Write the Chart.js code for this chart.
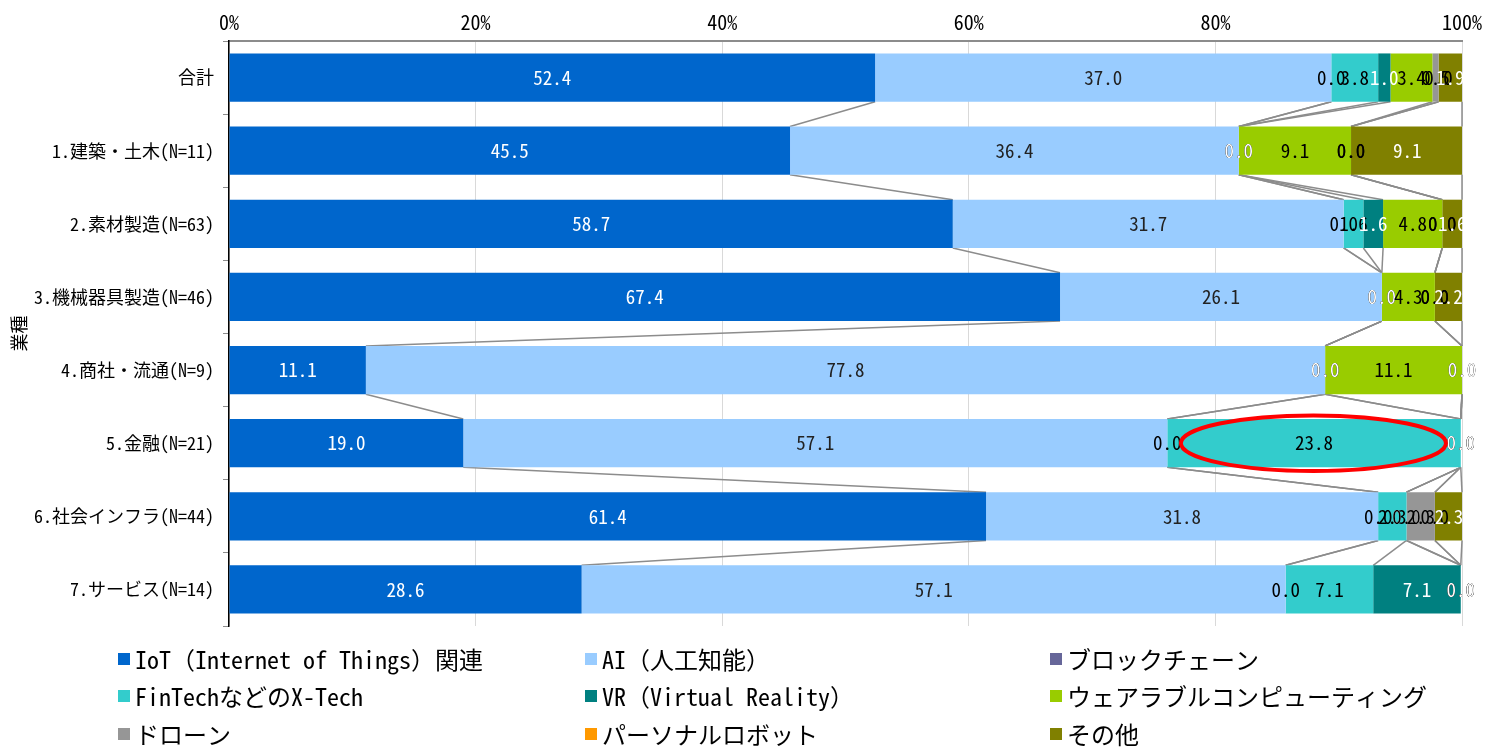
<!DOCTYPE html>
<html>
<head>
<meta charset="utf-8">
<script src="https://cdn.jsdelivr.net/npm/chart.js@4"></script>
<style>
  body { margin: 0; background: #fff; }
  #wrap { position: relative; width: 1498px; height: 753px; }
  #legend { position: absolute; left: 0; top: 641px; width: 1498px;
            font-family: 'Noto Sans Mono CJK JP', 'Noto Sans CJK JP', sans-serif; font-size: 24px; color: #000; }
  .item { position: absolute; display: flex; align-items: center; white-space: nowrap; }
  .box { width: 12px; height: 12px; margin-right: 5px; }
</style>
</head>
<body>
<div id="wrap">
  <canvas id="c" width="1498" height="753"></canvas>
  <div id="legend"></div>
</div>
<script>
const categories = ['合計', '1.建築・土木(N=11)', '2.素材製造(N=63)', '3.機械器具製造(N=46)',
    '4.商社・流通(N=9)', '5.金融(N=21)', '6.社会インフラ(N=44)', '7.サービス(N=14)'];

const seriesNames = ['IoT（Internet of Things）関連', 'AI（人工知能）', 'ブロックチェーン',
    'FinTechなどのX-Tech', 'VR（Virtual Reality）', 'ウェアラブルコンピューティング',
    'ドローン', 'パーソナルロボット', 'その他'];
const seriesColors = ['#0066CC', '#99CCFF', '#666699', '#33CCCC', '#008080', '#99CC00', '#969696', '#FF9900', '#808000'];
const labelColors = ['#fff', '#222', '#000', '#000', '#fff', '#000', '#000', '#000', '#fff'];

// one array per series, values for each category (%)
const iot       = [52.4, 45.5, 58.7, 67.4, 11.1, 19.0, 61.4, 28.6];
const ai        = [37.0, 36.4, 31.7, 26.1, 77.8, 57.1, 31.8, 57.1];
const blockchain= [0.0, 0.0, 0.0, 0.0, 0.0, 0.0, 0.0, 0.0];
const fintech   = [3.8, 0.0, 1.6, 0.0, 0.0, 23.8, 2.3, 7.1];
const vr        = [1.0, 0.0, 1.6, 0.0, 0.0, 0.0, 0.0, 7.1];
const wearable  = [3.4, 9.1, 4.8, 4.3, 11.1, 0.0, 0.0, 0.0];
const drone     = [0.5, 0.0, 0.0, 0.0, 0.0, 0.0, 2.3, 0.0];
const robot     = [0.0, 0.0, 0.0, 0.0, 0.0, 0.0, 0.0, 0.0];
const other     = [1.9, 9.1, 1.6, 2.2, 0.0, 0.0, 2.3, 0.0];
const allSeries = [iot, ai, blockchain, fintech, vr, wearable, drone, robot, other];

const xTicks = [0, 20, 40, 60, 80, 100];
// red ellipse around 金融 / FinTech
const markCat = 5, markFrom = 77.2, markTo = 98.7;

const FONT = "'Noto Sans Mono CJK JP', 'Noto Sans CJK JP', sans-serif";

// Excel-style series lines between neighbouring bars
const seriesLines = {
    id: 'seriesLines',
    beforeDatasetsDraw(chart) {
        const ctx = chart.ctx;
        const xs = chart.scales.x;
        const metas = chart.data.datasets.map((d, i) => chart.getDatasetMeta(i));
        ctx.save();
        ctx.strokeStyle = '#8c8c8c';
        ctx.lineWidth = 1.5;
        for (let i = 0; i < categories.length - 1; i++) {
            let cumA = 0, cumB = 0;
            for (let k = 0; k < allSeries.length; k++) {
                cumA += allSeries[k][i];
                cumB += allSeries[k][i + 1];
                const a = metas[k].data[i], b = metas[k].data[i + 1];
                ctx.beginPath();
                ctx.moveTo(xs.getPixelForValue(Math.min(cumA, 100)), a.y + a.height / 2);
                ctx.lineTo(xs.getPixelForValue(Math.min(cumB, 100)), b.y - b.height / 2);
                ctx.stroke();
            }
        }
        ctx.restore();
    }
};

const valueLabels = {
    id: 'valueLabels',
    afterDatasetsDraw(chart) {
        const ctx = chart.ctx;
        ctx.save();
        ctx.font = '19px ' + FONT;
        ctx.textAlign = 'center';
        ctx.textBaseline = 'middle';
        chart.data.datasets.forEach((ds, k) => {
            const meta = chart.getDatasetMeta(k);
            ctx.fillStyle = labelColors[k];
            meta.data.forEach((bar, i) => {
                const cx = (bar.x + bar.base) / 2;
                ctx.fillText(ds.data[i].toFixed(1), cx, bar.y);
            });
        });
        // annotation ellipse
        const xs = chart.scales.x, ys = chart.scales.y;
        const x1 = xs.getPixelForValue(markFrom), x2 = xs.getPixelForValue(markTo);
        const cy = ys.getPixelForValue(markCat);
        const band = (ys.bottom - ys.top) / categories.length;
        ctx.strokeStyle = '#FF0000';
        ctx.lineWidth = 4;
        ctx.beginPath();
        ctx.ellipse((x1 + x2) / 2, cy, (x2 - x1) / 2, band * 0.38, 0, 0, Math.PI * 2);
        ctx.stroke();
        ctx.restore();
    }
};

new Chart(document.getElementById('c'), {
    type: 'bar',
    data: {
        labels: categories,
        datasets: allSeries.map((vals, k) => ({
            label: seriesNames[k],
            data: vals,
            backgroundColor: seriesColors[k],
            borderWidth: 0,
            barPercentage: 0.66,
            categoryPercentage: 1.0
        }))
    },
    options: {
        indexAxis: 'y',
        responsive: false,
        animation: false,
        layout: { padding: { left: 0, right: 36, top: 0, bottom: 127 } },
        plugins: { legend: { display: false }, tooltip: { enabled: false } },
        scales: {
            x: {
                position: 'top',
                stacked: true,
                min: 0, max: 100,
                afterBuildTicks: s => { s.ticks = xTicks.map(v => ({ value: v })); },
                afterFit: s => { s.height = 41; },
                ticks: { callback: v => v + '%', color: '#000', font: { family: FONT, size: 20 }, padding: 7 },
                grid: { color: '#d9d9d9', lineWidth: 1, drawTicks: false },
                border: { color: '#8c8c8c', width: 2 }
            },
            y: {
                stacked: true,
                afterFit: s => { s.width = 229; },
                ticks: { color: '#000', font: { family: FONT, size: 18 }, padding: 9 },
                grid: { drawOnChartArea: false, tickLength: 6, color: '#8c8c8c', offset: true },
                border: { color: '#000', width: 1.5 },
                title: { display: true, text: '業種', color: '#000', font: { family: FONT, size: 18 }, padding: { top: 8, bottom: 0 } }
            }
        }
    },
    plugins: [seriesLines, valueLabels]
});

// legend in a 3-column grid
const legend = document.getElementById('legend');
const colX = [118, 585, 1050], rowY = [0, 37, 75];
seriesNames.forEach((name, k) => {
    const el = document.createElement('div');
    el.className = 'item';
    el.style.left = colX[k % 3] + 'px';
    el.style.top = rowY[Math.floor(k / 3)] + 'px';
    el.innerHTML = '<span class="box" style="background:' + seriesColors[k] + '"></span><span></span>';
    el.lastChild.textContent = name;
    legend.appendChild(el);
});
</script>
</body>
</html>
